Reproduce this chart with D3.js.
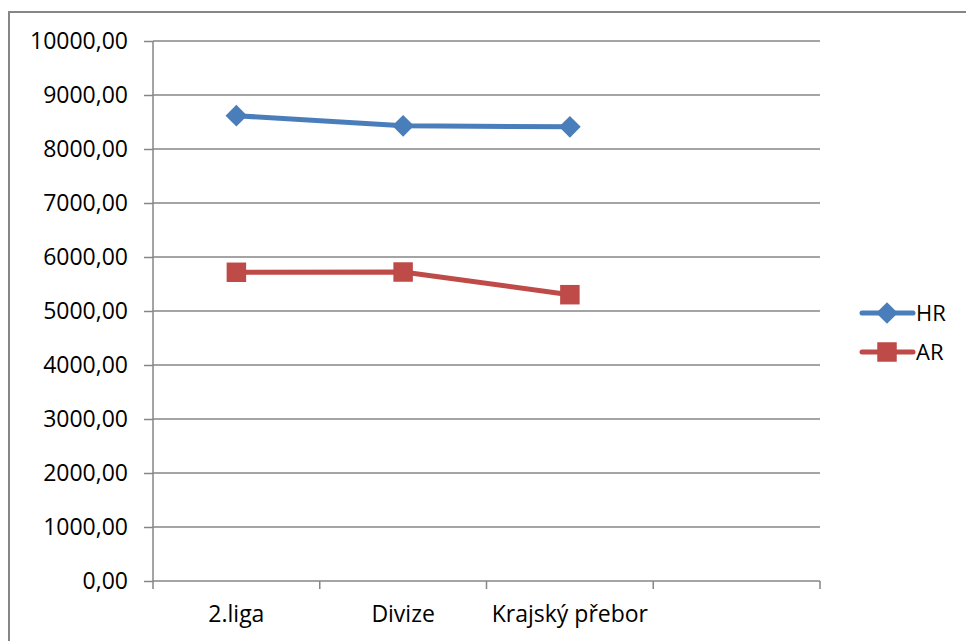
<!DOCTYPE html>
<html>
<head>
<meta charset="utf-8">
<script src="https://cdn.jsdelivr.net/npm/d3@7"></script>
<style>
  body { margin: 0; background: #fff; }
  text { font-family: "Open Sans", sans-serif; fill: #000; }
  .axis text { font-size: 23px; }
  .axis path, .axis line { stroke: #868686; stroke-width: 1.5px; }
  .grid line { stroke: #868686; stroke-width: 1.5px; }
</style>
</head>
<body>
<div id="chart"></div>
<script>
// categories (the 4th slot is empty in the original)
const categories = ["2.liga", "Divize", "Krajský přebor", ""];
const hrValues = [8617, 8430, 8411];
const arValues = [5717, 5722, 5302];
const yTicks = [0, 1000, 2000, 3000, 4000, 5000, 6000, 7000, 8000, 9000, 10000];

const series = [
  {name: "HR", values: hrValues, color: "#4a7ebb", shape: "diamond"},
  {name: "AR", values: arValues, color: "#be4b48", shape: "square"}
];

const W = 966, H = 641;
const margin = {top: 41, left: 153},
    plotW = 820 - 153,
    plotH = 581 - 41;

const svg = d3.select("#chart").append("svg")
    .attr("width", W)
    .attr("height", H);

// outer frame (runs off the right and bottom edge)
svg.append("rect")
    .attr("x", 9).attr("y", 12)
    .attr("width", W + 20).attr("height", H + 20)
    .attr("fill", "none")
    .attr("stroke", "#868686")
    .attr("stroke-width", 2);

const g = svg.append("g")
    .attr("transform", `translate(${margin.left}, ${margin.top})`);

const x = d3.scaleBand()
    .domain(categories)
    .range([0, plotW]);

const y = d3.scaleLinear()
    .domain([0, 10000])
    .range([plotH, 0]);

// gridlines
g.append("g")
    .attr("class", "grid")
    .selectAll("line")
    .data(yTicks.filter(d => d > 0))
    .join("line")
    .attr("x1", 0).attr("x2", plotW)
    .attr("y1", d => y(d)).attr("y2", d => y(d));

// y axis
g.append("g")
    .attr("class", "axis")
    .call(d3.axisLeft(y)
      .tickValues(yTicks)
      .tickSizeInner(9)
      .tickSizeOuter(0)
      .tickPadding(16)
      .tickFormat(d => d3.format(".2f")(d).replace(".", ",")))
    .select(".domain").attr("d", `M0,0V${plotH}`);

// x axis with ticks on band boundaries
const xAxis = g.append("g")
    .attr("class", "axis")
    .attr("transform", `translate(0, ${plotH})`);
xAxis.append("line")
    .attr("x1", 0).attr("x2", plotW)
    .attr("y1", 0).attr("y2", 0);
xAxis.selectAll(".tk")
    .data(categories.map(c => x(c)).concat([plotW]))
    .join("line")
    .attr("class", "tk")
    .attr("x1", d => d).attr("x2", d => d)
    .attr("y1", 0).attr("y2", 8);
xAxis.selectAll(".lbl")
    .data(categories)
    .join("text")
    .attr("class", "lbl")
    .attr("x", d => x(d) + x.bandwidth() / 2)
    .attr("y", 41)
    .attr("text-anchor", "middle")
    .text(d => d);

const line = d3.line()
    .x((d, i) => x(categories[i]) + x.bandwidth() / 2)
    .y(d => y(d));

const diamond = d3.symbol().type(d3.symbolDiamond2).size(300);
const square = d3.symbol().type(d3.symbolSquare).size(380);

series.forEach(s => {
  g.append("path")
    .datum(s.values)
    .attr("fill", "none")
    .attr("stroke", s.color)
    .attr("stroke-width", 5)
    .attr("stroke-linejoin", "round")
    .attr("stroke-linecap", "round")
    .attr("d", line);

  g.selectAll(null)
    .data(s.values)
    .join("path")
    .attr("transform", (d, i) => `translate(${x(categories[i]) + x.bandwidth() / 2}, ${y(d)})`)
    .attr("d", s.shape === "diamond" ? diamond : square)
    .attr("fill", s.color);
});

// legend
const legend = svg.append("g")
    .attr("transform", "translate(860, 313)");
series.forEach((s, i) => {
  const lg = legend.append("g").attr("transform", `translate(0, ${i * 39})`);
  lg.append("line")
    .attr("x1", 2).attr("x2", 53)
    .attr("y1", 0).attr("y2", 0)
    .attr("stroke", s.color)
    .attr("stroke-width", 5)
    .attr("stroke-linecap", "round");
  lg.append("path")
    .attr("transform", "translate(27, 0)")
    .attr("d", s.shape === "diamond" ? diamond : square)
    .attr("fill", s.color);
  lg.append("text")
    .attr("x", 56)
    .attr("y", 0)
    .attr("dy", "0.35em")
    .style("font-size", "22px")
    .text(s.name);
});
</script>
</body>
</html>
